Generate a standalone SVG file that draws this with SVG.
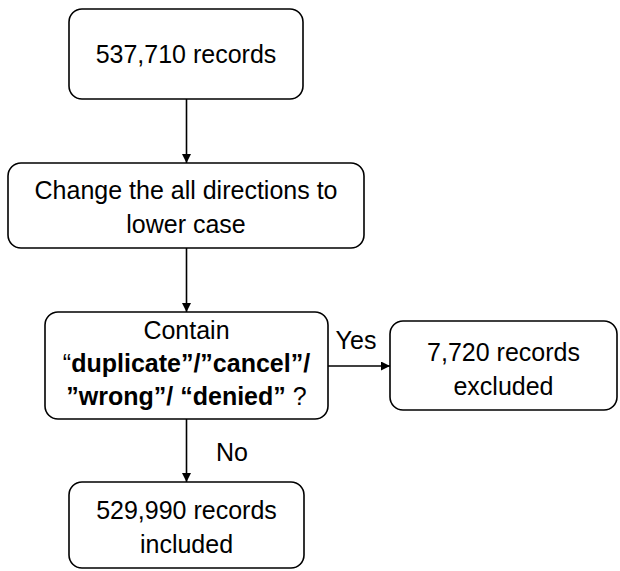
<svg xmlns="http://www.w3.org/2000/svg" width="620" height="571" viewBox="0 0 620 571">
<style>
  .box { fill: #ffffff; stroke: #000000; stroke-width: 1.6; }
  .t { font-family: "Liberation Sans", Arial, sans-serif; font-size: 25px; fill: #000000; text-anchor: middle; }
  .b { font-weight: bold; }
  .edge { stroke: #000000; stroke-width: 1.6; fill: none; marker-end: url(#arr); }
</style>
<defs>
  <marker id="arr" viewBox="0 0 10 10" refX="10" refY="5" markerWidth="9" markerHeight="9" markerUnits="userSpaceOnUse" orient="auto">
    <path d="M0,0 L10,5 L0,10 z" fill="#000000"/>
  </marker>
</defs>
<rect width="620" height="571" fill="#ffffff"/>
<g id="connectors">
  <line class="edge" x1="186.5" y1="99" x2="186.5" y2="163"/>
  <line class="edge" x1="186.5" y1="248" x2="186.5" y2="312"/>
  <line class="edge" x1="328" y1="366" x2="390" y2="366"/>
  <line class="edge" x1="186.5" y1="419" x2="186.5" y2="482"/>
  <text class="t" x="356" y="349">Yes</text>
  <text class="t" x="232" y="461">No</text>
</g>
<g id="n1">
  <rect class="box" x="69" y="9" width="234" height="90" rx="13"/>
  <text class="t" x="186" y="63">537,710 records</text>
</g>
<g id="n2">
  <rect class="box" x="8" y="163" width="356" height="85" rx="13"/>
  <text class="t" x="186" y="199">Change the all directions to</text>
  <text class="t" x="186" y="233">lower case</text>
</g>
<g id="n3">
  <rect class="box" x="45" y="312" width="283" height="107" rx="13"/>
  <text class="t" x="186.5" y="339">Contain</text>
  <text class="t" x="186.5" y="372">“<tspan class="b">duplicate”/”cancel”/</tspan></text>
  <text class="t" x="186.5" y="405"><tspan class="b">”wrong”/ “denied”</tspan> ?</text>
</g>
<g id="n4">
  <rect class="box" x="390" y="321" width="227" height="89" rx="13"/>
  <text class="t" x="503.5" y="361">7,720 records</text>
  <text class="t" x="503.5" y="395">excluded</text>
</g>
<g id="n5">
  <rect class="box" x="69" y="482" width="235" height="86" rx="13"/>
  <text class="t" x="186.5" y="519">529,990 records</text>
  <text class="t" x="186.5" y="553">included</text>
</g>
</svg>
